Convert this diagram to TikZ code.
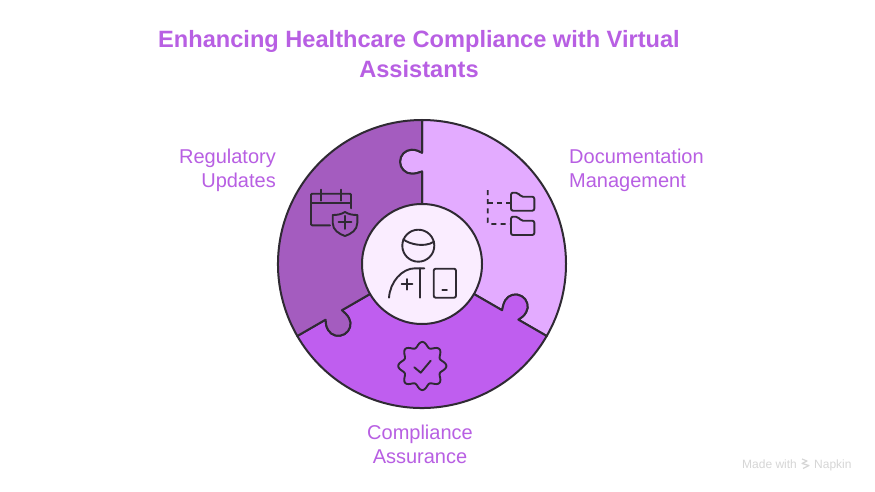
\documentclass[tikz,border=0pt]{standalone}
\usepackage{fontspec}
\setmainfont{Liberation Sans}
\definecolor{inkc}{HTML}{2F2A33}
\definecolor{darkp}{HTML}{A45CBF}
\definecolor{lightp}{HTML}{E3ABFF}
\definecolor{midp}{HTML}{BF5EEF}
\definecolor{corep}{HTML}{FAEDFF}
\definecolor{textp}{HTML}{B85FE3}
\definecolor{markc}{HTML}{D6D6D6}
\newcommand\seamOut[1]{
  -- ([rotate=#1]0,111.3)
  .. controls ([rotate=#1]-3,113) and ([rotate=#1]-6,114.3) .. ([rotate=#1]-10.3,114.3)
  .. controls ([rotate=#1]-16.8,114.3) and ([rotate=#1]-22,108.8) .. ([rotate=#1]-22,102.3)
  .. controls ([rotate=#1]-22,95.8) and ([rotate=#1]-16.8,90.3) .. ([rotate=#1]-10.3,90.3)
  .. controls ([rotate=#1]-6,90.3) and ([rotate=#1]-3,91.5) .. ([rotate=#1]0,92.5)
  -- ([rotate=#1]0,50)}
\newcommand\seamIn[1]{
  -- ([rotate=#1]0,92.5)
  .. controls ([rotate=#1]-3,91.5) and ([rotate=#1]-6,90.3) .. ([rotate=#1]-10.3,90.3)
  .. controls ([rotate=#1]-16.8,90.3) and ([rotate=#1]-22,95.8) .. ([rotate=#1]-22,102.3)
  .. controls ([rotate=#1]-22,108.8) and ([rotate=#1]-16.8,114.3) .. ([rotate=#1]-10.3,114.3)
  .. controls ([rotate=#1]-6,114.3) and ([rotate=#1]-3,113) .. ([rotate=#1]0,111.3)
  -- ([rotate=#1]0,144)}
\tikzset{
  piece/.style={draw=inkc,line width=2pt,line join=round},
  icon/.style={draw=inkc,line width=1.9pt,line cap=round,line join=round},
  titletext/.style={font=\bfseries\fontsize{23.6}{28}\selectfont,text=textp,align=center,inner sep=0pt},
  labeltext/.style={font=\fontsize{20}{24}\selectfont,text=textp,inner sep=0pt},
  marktext/.style={font=\fontsize{12}{14}\selectfont,text=markc,anchor=base west,inner sep=0pt}
}
\begin{document}
\begin{tikzpicture}[x=1pt,y=1pt]
\useasboundingbox (0,0) rectangle (875,-492);
\fill[white] (0,0) rectangle (875,-492);
\node[titletext,anchor=base] (t1) at (419,-48) {Enhancing Healthcare Compliance with Virtual};
\node[titletext,anchor=base] (t2) at (419,-78) {Assistants};
\node[labeltext,anchor=base east] (r1) at (276,-163) {Regulatory};
\node[labeltext,anchor=base east] (r2) at (276,-187) {Updates};
\node[labeltext,anchor=base west] (d1) at (569,-163) {Documentation};
\node[labeltext,anchor=base west] (d2) at (569,-187) {Management};
\node[labeltext,anchor=base] (c1) at (420,-439) {Compliance};
\node[labeltext,anchor=base] (c2) at (420,-463) {Assurance};
\begin{scope}[shift={(422,-264)}]
  \filldraw[piece,fill=lightp] (0,144) arc[start angle=90,end angle=-30,radius=144pt]
     \seamOut{-120} -- (0,0) -- ([rotate=0]0,50) \seamIn{0} -- cycle;
  \filldraw[piece,fill=midp] ([rotate=-120]0,144) arc[start angle=-30,end angle=-150,radius=144pt]
     \seamOut{-240} -- (0,0) -- ([rotate=-120]0,50) \seamIn{-120} -- cycle;
  \filldraw[piece,fill=darkp] ([rotate=-240]0,144) arc[start angle=-150,end angle=-270,radius=144pt]
     \seamOut{0} -- (0,0) -- ([rotate=-240]0,50) \seamIn{-240} -- cycle;
  \node[circle,draw=inkc,fill=corep,line width=2pt,minimum size=120pt,inner sep=0pt] (core) at (0,0) {};
\end{scope}
% person icon
\draw[icon] (418.3,-245.7) circle[radius=16pt];
\draw[icon] (403.3,-239.3) .. controls (409,-244) and (424,-248) .. (434,-241.7);
\draw[icon] (389,-297.7) .. controls (390,-282) and (402,-268.3) .. (415,-268.3) -- (424.3,-268.3);
\draw[icon] (420.3,-268.3) -- (420.3,-297.7);
\draw[icon] (401.7,-284.3) -- (412.3,-284.3) (407,-279) -- (407,-289.6);
\draw[icon,rounded corners=2pt] (433.7,-268.7) rectangle (456,-297.7);
\draw[icon] (442.3,-290) -- (447,-290);
% calendar shield icon
\draw[icon,rounded corners=1pt] (330,-225.3) -- (311,-225.3) -- (311,-193.7) -- (351,-193.7) -- (351,-208.3);
\draw[icon] (311,-203.3) -- (351,-203.3);
\draw[icon] (320.7,-189.7) -- (320.7,-200.7) (340.7,-189.7) -- (340.7,-200.7);
\draw[icon] (345,-212) .. controls (349,-214.5) and (353,-215) .. (357.3,-215) -- (357.3,-223)
  .. controls (357.3,-230) and (351,-234) .. (345,-236)
  .. controls (339,-234) and (332.7,-230) .. (332.7,-223) -- (332.7,-215)
  .. controls (337,-215) and (341,-214.5) .. (345,-212) -- cycle;
\draw[icon] (338.5,-222.3) -- (351.5,-222.3) (345,-215.8) -- (345,-228.8);
% folders icon
\draw[icon,line cap=butt,dash pattern=on 5pt off 4.2pt,rounded corners=1.5pt] (487.7,-190) -- (487.7,-224) -- (510,-224);
\draw[icon,line cap=butt,dash pattern=on 5pt off 4.2pt] (487.7,-202.7) -- (510,-202.7);
\draw[icon,rounded corners=2pt] (511,-210.7) -- (511,-192.7) -- (518,-192.7) -- (521,-196.7) -- (534.3,-196.7) -- (534.3,-210.7) -- cycle;
\draw[icon,rounded corners=2pt] (511,-235) -- (511,-216.7) -- (518,-216.7) -- (521,-220.7) -- (534.3,-220.7) -- (534.3,-235) -- cycle;
% badge icon
\draw[icon,smooth,samples=97,domain=0:360] plot ({422.3+(21.5+2.6*cos(8*\x))*cos(\x)},{-366+(21.5+2.6*cos(8*\x))*sin(\x)}) -- cycle;
\draw[icon] (414.3,-367.3) -- (420.7,-372.7) -- (430.7,-360.7);
% watermark
\node[marktext] (m1) at (742,-468.5) {Made with};
\node[marktext] (m2) at (814,-468.5) {Napkin};
\draw[markc,line width=1.2pt,line join=round] (802,-459) -- (807,-461) -- (802,-463.5) -- (809,-465.5) -- (803,-468.5);
\end{tikzpicture}
\end{document}
